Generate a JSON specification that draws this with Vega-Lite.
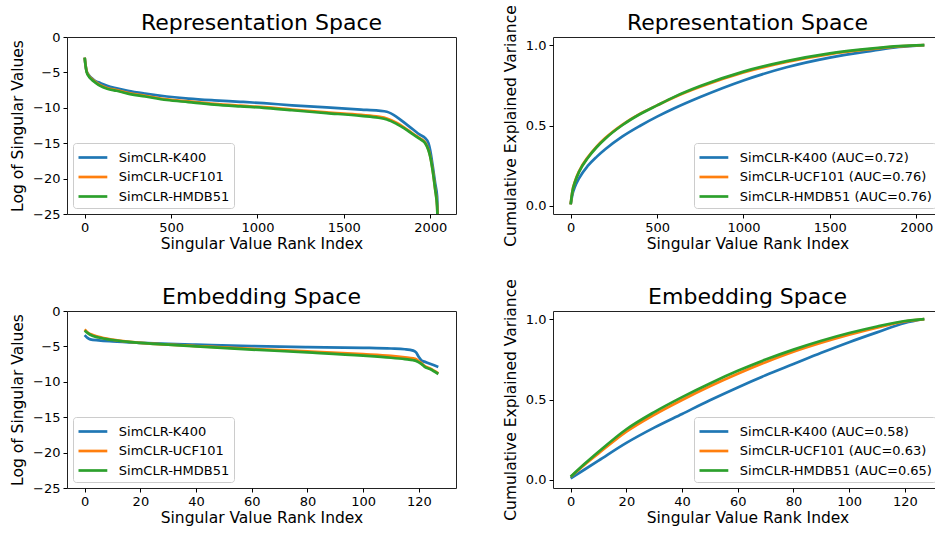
{
  "$schema": "https://vega.github.io/schema/vega-lite/v6.json",
  "background": "white",
  "padding": {"left": 10, "top": 4, "right": 0, "bottom": 0},
  "columns": 2,
  "spacing": {"row": 97, "column": 97},
  "bounds": "flush",
  "resolve": {"scale": {"color": "independent", "x": "independent", "y": "independent"}, "legend": {"color": "independent"}},
  "datasets": {
    "repLog": [
      {"s":"SimCLR-K400","x":0,"v":-2.9},{"s":"SimCLR-K400","x":5,"v":-4.0},{"s":"SimCLR-K400","x":12,"v":-4.9},{"s":"SimCLR-K400","x":25,"v":-5.4},{"s":"SimCLR-K400","x":40,"v":-5.8},{"s":"SimCLR-K400","x":60,"v":-6.2},{"s":"SimCLR-K400","x":90,"v":-6.5},{"s":"SimCLR-K400","x":130,"v":-6.9},{"s":"SimCLR-K400","x":185,"v":-7.25},{"s":"SimCLR-K400","x":250,"v":-7.6},{"s":"SimCLR-K400","x":350,"v":-8.0},{"s":"SimCLR-K400","x":475,"v":-8.4},{"s":"SimCLR-K400","x":600,"v":-8.7},{"s":"SimCLR-K400","x":750,"v":-8.95},{"s":"SimCLR-K400","x":900,"v":-9.15},{"s":"SimCLR-K400","x":1036,"v":-9.35},{"s":"SimCLR-K400","x":1200,"v":-9.65},{"s":"SimCLR-K400","x":1400,"v":-9.95},{"s":"SimCLR-K400","x":1600,"v":-10.25},{"s":"SimCLR-K400","x":1700,"v":-10.4},{"s":"SimCLR-K400","x":1749,"v":-10.55},{"s":"SimCLR-K400","x":1807,"v":-11.3},{"s":"SimCLR-K400","x":1850,"v":-12.1},{"s":"SimCLR-K400","x":1903,"v":-13.1},{"s":"SimCLR-K400","x":1940,"v":-13.8},{"s":"SimCLR-K400","x":1971,"v":-14.3},{"s":"SimCLR-K400","x":1990,"v":-15.0},{"s":"SimCLR-K400","x":2000,"v":-16.0},{"s":"SimCLR-K400","x":2015,"v":-18.3},{"s":"SimCLR-K400","x":2029,"v":-20.7},{"s":"SimCLR-K400","x":2040,"v":-22.5},{"s":"SimCLR-K400","x":2047,"v":-30},
      {"s":"SimCLR-UCF101","x":0,"v":-2.9},{"s":"SimCLR-UCF101","x":5,"v":-3.95},{"s":"SimCLR-UCF101","x":12,"v":-4.9},{"s":"SimCLR-UCF101","x":25,"v":-5.5},{"s":"SimCLR-UCF101","x":40,"v":-5.9},{"s":"SimCLR-UCF101","x":60,"v":-6.3},{"s":"SimCLR-UCF101","x":90,"v":-6.8},{"s":"SimCLR-UCF101","x":130,"v":-7.2},{"s":"SimCLR-UCF101","x":185,"v":-7.5},{"s":"SimCLR-UCF101","x":250,"v":-7.9},{"s":"SimCLR-UCF101","x":350,"v":-8.3},{"s":"SimCLR-UCF101","x":475,"v":-8.8},{"s":"SimCLR-UCF101","x":600,"v":-9.1},{"s":"SimCLR-UCF101","x":750,"v":-9.45},{"s":"SimCLR-UCF101","x":900,"v":-9.7},{"s":"SimCLR-UCF101","x":1036,"v":-9.9},{"s":"SimCLR-UCF101","x":1200,"v":-10.25},{"s":"SimCLR-UCF101","x":1400,"v":-10.65},{"s":"SimCLR-UCF101","x":1600,"v":-11.0},{"s":"SimCLR-UCF101","x":1700,"v":-11.25},{"s":"SimCLR-UCF101","x":1749,"v":-11.5},{"s":"SimCLR-UCF101","x":1807,"v":-12.15},{"s":"SimCLR-UCF101","x":1850,"v":-12.8},{"s":"SimCLR-UCF101","x":1903,"v":-13.7},{"s":"SimCLR-UCF101","x":1940,"v":-14.3},{"s":"SimCLR-UCF101","x":1971,"v":-14.9},{"s":"SimCLR-UCF101","x":1990,"v":-15.9},{"s":"SimCLR-UCF101","x":2000,"v":-16.8},{"s":"SimCLR-UCF101","x":2015,"v":-18.9},{"s":"SimCLR-UCF101","x":2029,"v":-21.5},{"s":"SimCLR-UCF101","x":2040,"v":-23.8},{"s":"SimCLR-UCF101","x":2047,"v":-30},
      {"s":"SimCLR-HMDB51","x":0,"v":-2.9},{"s":"SimCLR-HMDB51","x":5,"v":-4.0},{"s":"SimCLR-HMDB51","x":12,"v":-5.0},{"s":"SimCLR-HMDB51","x":25,"v":-5.6},{"s":"SimCLR-HMDB51","x":40,"v":-6.0},{"s":"SimCLR-HMDB51","x":60,"v":-6.4},{"s":"SimCLR-HMDB51","x":90,"v":-6.9},{"s":"SimCLR-HMDB51","x":130,"v":-7.3},{"s":"SimCLR-HMDB51","x":185,"v":-7.6},{"s":"SimCLR-HMDB51","x":250,"v":-8.0},{"s":"SimCLR-HMDB51","x":350,"v":-8.4},{"s":"SimCLR-HMDB51","x":475,"v":-8.9},{"s":"SimCLR-HMDB51","x":600,"v":-9.2},{"s":"SimCLR-HMDB51","x":750,"v":-9.55},{"s":"SimCLR-HMDB51","x":900,"v":-9.8},{"s":"SimCLR-HMDB51","x":1036,"v":-10.0},{"s":"SimCLR-HMDB51","x":1200,"v":-10.35},{"s":"SimCLR-HMDB51","x":1400,"v":-10.75},{"s":"SimCLR-HMDB51","x":1600,"v":-11.15},{"s":"SimCLR-HMDB51","x":1700,"v":-11.4},{"s":"SimCLR-HMDB51","x":1749,"v":-11.65},{"s":"SimCLR-HMDB51","x":1807,"v":-12.3},{"s":"SimCLR-HMDB51","x":1850,"v":-12.9},{"s":"SimCLR-HMDB51","x":1903,"v":-13.8},{"s":"SimCLR-HMDB51","x":1940,"v":-14.4},{"s":"SimCLR-HMDB51","x":1971,"v":-15.0},{"s":"SimCLR-HMDB51","x":1990,"v":-16.0},{"s":"SimCLR-HMDB51","x":2000,"v":-16.9},{"s":"SimCLR-HMDB51","x":2015,"v":-19.0},{"s":"SimCLR-HMDB51","x":2029,"v":-21.6},{"s":"SimCLR-HMDB51","x":2040,"v":-24.0},{"s":"SimCLR-HMDB51","x":2047,"v":-30}
    ],
    "repCum": [
      {"s":"SimCLR-K400 (AUC=0.72)","x":0,"v":0.01},{"s":"SimCLR-K400 (AUC=0.72)","x":10,"v":0.07},{"s":"SimCLR-K400 (AUC=0.72)","x":25,"v":0.12},{"s":"SimCLR-K400 (AUC=0.72)","x":50,"v":0.175},{"s":"SimCLR-K400 (AUC=0.72)","x":100,"v":0.25},{"s":"SimCLR-K400 (AUC=0.72)","x":150,"v":0.305},{"s":"SimCLR-K400 (AUC=0.72)","x":200,"v":0.352},{"s":"SimCLR-K400 (AUC=0.72)","x":300,"v":0.432},{"s":"SimCLR-K400 (AUC=0.72)","x":400,"v":0.497},{"s":"SimCLR-K400 (AUC=0.72)","x":500,"v":0.555},{"s":"SimCLR-K400 (AUC=0.72)","x":600,"v":0.607},{"s":"SimCLR-K400 (AUC=0.72)","x":750,"v":0.677},{"s":"SimCLR-K400 (AUC=0.72)","x":1000,"v":0.78},{"s":"SimCLR-K400 (AUC=0.72)","x":1250,"v":0.862},{"s":"SimCLR-K400 (AUC=0.72)","x":1500,"v":0.922},{"s":"SimCLR-K400 (AUC=0.72)","x":1750,"v":0.965},{"s":"SimCLR-K400 (AUC=0.72)","x":1900,"v":0.988},{"s":"SimCLR-K400 (AUC=0.72)","x":2047,"v":1.0},
      {"s":"SimCLR-UCF101 (AUC=0.76)","x":0,"v":0.01},{"s":"SimCLR-UCF101 (AUC=0.76)","x":10,"v":0.092},{"s":"SimCLR-UCF101 (AUC=0.76)","x":25,"v":0.153},{"s":"SimCLR-UCF101 (AUC=0.76)","x":50,"v":0.219},{"s":"SimCLR-UCF101 (AUC=0.76)","x":100,"v":0.304},{"s":"SimCLR-UCF101 (AUC=0.76)","x":150,"v":0.369},{"s":"SimCLR-UCF101 (AUC=0.76)","x":200,"v":0.422},{"s":"SimCLR-UCF101 (AUC=0.76)","x":300,"v":0.506},{"s":"SimCLR-UCF101 (AUC=0.76)","x":400,"v":0.572},{"s":"SimCLR-UCF101 (AUC=0.76)","x":500,"v":0.625},{"s":"SimCLR-UCF101 (AUC=0.76)","x":600,"v":0.676},{"s":"SimCLR-UCF101 (AUC=0.76)","x":750,"v":0.741},{"s":"SimCLR-UCF101 (AUC=0.76)","x":1000,"v":0.83},{"s":"SimCLR-UCF101 (AUC=0.76)","x":1250,"v":0.895},{"s":"SimCLR-UCF101 (AUC=0.76)","x":1500,"v":0.944},{"s":"SimCLR-UCF101 (AUC=0.76)","x":1750,"v":0.976},{"s":"SimCLR-UCF101 (AUC=0.76)","x":1900,"v":0.992},{"s":"SimCLR-UCF101 (AUC=0.76)","x":2047,"v":1.0},
      {"s":"SimCLR-HMDB51 (AUC=0.76)","x":0,"v":0.01},{"s":"SimCLR-HMDB51 (AUC=0.76)","x":10,"v":0.09},{"s":"SimCLR-HMDB51 (AUC=0.76)","x":25,"v":0.15},{"s":"SimCLR-HMDB51 (AUC=0.76)","x":50,"v":0.215},{"s":"SimCLR-HMDB51 (AUC=0.76)","x":100,"v":0.30},{"s":"SimCLR-HMDB51 (AUC=0.76)","x":150,"v":0.365},{"s":"SimCLR-HMDB51 (AUC=0.76)","x":200,"v":0.418},{"s":"SimCLR-HMDB51 (AUC=0.76)","x":300,"v":0.503},{"s":"SimCLR-HMDB51 (AUC=0.76)","x":400,"v":0.57},{"s":"SimCLR-HMDB51 (AUC=0.76)","x":500,"v":0.625},{"s":"SimCLR-HMDB51 (AUC=0.76)","x":600,"v":0.678},{"s":"SimCLR-HMDB51 (AUC=0.76)","x":750,"v":0.745},{"s":"SimCLR-HMDB51 (AUC=0.76)","x":1000,"v":0.835},{"s":"SimCLR-HMDB51 (AUC=0.76)","x":1250,"v":0.9},{"s":"SimCLR-HMDB51 (AUC=0.76)","x":1500,"v":0.948},{"s":"SimCLR-HMDB51 (AUC=0.76)","x":1750,"v":0.979},{"s":"SimCLR-HMDB51 (AUC=0.76)","x":1900,"v":0.993},{"s":"SimCLR-HMDB51 (AUC=0.76)","x":2047,"v":1.0}
    ],
    "embLog": [
      {"s":"SimCLR-K400","x":0,"v":-3.4},{"s":"SimCLR-K400","x":1,"v":-3.8},{"s":"SimCLR-K400","x":2,"v":-4.0},{"s":"SimCLR-K400","x":5,"v":-4.15},{"s":"SimCLR-K400","x":10,"v":-4.3},{"s":"SimCLR-K400","x":20,"v":-4.5},{"s":"SimCLR-K400","x":30,"v":-4.65},{"s":"SimCLR-K400","x":40,"v":-4.75},{"s":"SimCLR-K400","x":60,"v":-4.95},{"s":"SimCLR-K400","x":80,"v":-5.1},{"s":"SimCLR-K400","x":100,"v":-5.2},{"s":"SimCLR-K400","x":110,"v":-5.3},{"s":"SimCLR-K400","x":115,"v":-5.4},{"s":"SimCLR-K400","x":118,"v":-5.6},{"s":"SimCLR-K400","x":119,"v":-5.85},{"s":"SimCLR-K400","x":120,"v":-6.5},{"s":"SimCLR-K400","x":121,"v":-7.0},{"s":"SimCLR-K400","x":122,"v":-7.15},{"s":"SimCLR-K400","x":124,"v":-7.45},{"s":"SimCLR-K400","x":127,"v":-7.9},
      {"s":"SimCLR-UCF101","x":0,"v":-2.6},{"s":"SimCLR-UCF101","x":1,"v":-3.0},{"s":"SimCLR-UCF101","x":2,"v":-3.25},{"s":"SimCLR-UCF101","x":5,"v":-3.65},{"s":"SimCLR-UCF101","x":10,"v":-4.05},{"s":"SimCLR-UCF101","x":20,"v":-4.5},{"s":"SimCLR-UCF101","x":30,"v":-4.75},{"s":"SimCLR-UCF101","x":40,"v":-4.95},{"s":"SimCLR-UCF101","x":60,"v":-5.35},{"s":"SimCLR-UCF101","x":80,"v":-5.7},{"s":"SimCLR-UCF101","x":100,"v":-6.1},{"s":"SimCLR-UCF101","x":110,"v":-6.35},{"s":"SimCLR-UCF101","x":115,"v":-6.55},{"s":"SimCLR-UCF101","x":118,"v":-6.7},{"s":"SimCLR-UCF101","x":119,"v":-6.8},{"s":"SimCLR-UCF101","x":120,"v":-7.1},{"s":"SimCLR-UCF101","x":121,"v":-7.4},{"s":"SimCLR-UCF101","x":122,"v":-7.75},{"s":"SimCLR-UCF101","x":124,"v":-8.1},{"s":"SimCLR-UCF101","x":127,"v":-8.8},
      {"s":"SimCLR-HMDB51","x":0,"v":-2.75},{"s":"SimCLR-HMDB51","x":1,"v":-3.1},{"s":"SimCLR-HMDB51","x":2,"v":-3.35},{"s":"SimCLR-HMDB51","x":5,"v":-3.75},{"s":"SimCLR-HMDB51","x":10,"v":-4.1},{"s":"SimCLR-HMDB51","x":20,"v":-4.5},{"s":"SimCLR-HMDB51","x":30,"v":-4.75},{"s":"SimCLR-HMDB51","x":40,"v":-5.0},{"s":"SimCLR-HMDB51","x":60,"v":-5.45},{"s":"SimCLR-HMDB51","x":80,"v":-5.85},{"s":"SimCLR-HMDB51","x":100,"v":-6.3},{"s":"SimCLR-HMDB51","x":110,"v":-6.6},{"s":"SimCLR-HMDB51","x":115,"v":-6.8},{"s":"SimCLR-HMDB51","x":118,"v":-6.95},{"s":"SimCLR-HMDB51","x":119,"v":-7.05},{"s":"SimCLR-HMDB51","x":120,"v":-7.25},{"s":"SimCLR-HMDB51","x":121,"v":-7.5},{"s":"SimCLR-HMDB51","x":122,"v":-7.85},{"s":"SimCLR-HMDB51","x":124,"v":-8.2},{"s":"SimCLR-HMDB51","x":127,"v":-8.9}
    ],
    "embCum": [
      {"s":"SimCLR-K400 (AUC=0.58)","x":0,"v":0.01},{"s":"SimCLR-K400 (AUC=0.58)","x":5,"v":0.065},{"s":"SimCLR-K400 (AUC=0.58)","x":10,"v":0.12},{"s":"SimCLR-K400 (AUC=0.58)","x":20,"v":0.23},{"s":"SimCLR-K400 (AUC=0.58)","x":30,"v":0.325},{"s":"SimCLR-K400 (AUC=0.58)","x":40,"v":0.41},{"s":"SimCLR-K400 (AUC=0.58)","x":50,"v":0.495},{"s":"SimCLR-K400 (AUC=0.58)","x":60,"v":0.575},{"s":"SimCLR-K400 (AUC=0.58)","x":70,"v":0.65},{"s":"SimCLR-K400 (AUC=0.58)","x":80,"v":0.72},{"s":"SimCLR-K400 (AUC=0.58)","x":90,"v":0.79},{"s":"SimCLR-K400 (AUC=0.58)","x":100,"v":0.856},{"s":"SimCLR-K400 (AUC=0.58)","x":110,"v":0.917},{"s":"SimCLR-K400 (AUC=0.58)","x":120,"v":0.975},{"s":"SimCLR-K400 (AUC=0.58)","x":127,"v":1.0},
      {"s":"SimCLR-UCF101 (AUC=0.63)","x":0,"v":0.02},{"s":"SimCLR-UCF101 (AUC=0.63)","x":5,"v":0.095},{"s":"SimCLR-UCF101 (AUC=0.63)","x":10,"v":0.165},{"s":"SimCLR-UCF101 (AUC=0.63)","x":20,"v":0.3},{"s":"SimCLR-UCF101 (AUC=0.63)","x":30,"v":0.405},{"s":"SimCLR-UCF101 (AUC=0.63)","x":40,"v":0.497},{"s":"SimCLR-UCF101 (AUC=0.63)","x":50,"v":0.582},{"s":"SimCLR-UCF101 (AUC=0.63)","x":60,"v":0.66},{"s":"SimCLR-UCF101 (AUC=0.63)","x":70,"v":0.732},{"s":"SimCLR-UCF101 (AUC=0.63)","x":80,"v":0.797},{"s":"SimCLR-UCF101 (AUC=0.63)","x":90,"v":0.853},{"s":"SimCLR-UCF101 (AUC=0.63)","x":100,"v":0.903},{"s":"SimCLR-UCF101 (AUC=0.63)","x":110,"v":0.947},{"s":"SimCLR-UCF101 (AUC=0.63)","x":120,"v":0.985},{"s":"SimCLR-UCF101 (AUC=0.63)","x":127,"v":1.0},
      {"s":"SimCLR-HMDB51 (AUC=0.65)","x":0,"v":0.02},{"s":"SimCLR-HMDB51 (AUC=0.65)","x":5,"v":0.1},{"s":"SimCLR-HMDB51 (AUC=0.65)","x":10,"v":0.175},{"s":"SimCLR-HMDB51 (AUC=0.65)","x":20,"v":0.315},{"s":"SimCLR-HMDB51 (AUC=0.65)","x":30,"v":0.422},{"s":"SimCLR-HMDB51 (AUC=0.65)","x":40,"v":0.515},{"s":"SimCLR-HMDB51 (AUC=0.65)","x":50,"v":0.6},{"s":"SimCLR-HMDB51 (AUC=0.65)","x":60,"v":0.678},{"s":"SimCLR-HMDB51 (AUC=0.65)","x":70,"v":0.748},{"s":"SimCLR-HMDB51 (AUC=0.65)","x":80,"v":0.81},{"s":"SimCLR-HMDB51 (AUC=0.65)","x":90,"v":0.865},{"s":"SimCLR-HMDB51 (AUC=0.65)","x":100,"v":0.913},{"s":"SimCLR-HMDB51 (AUC=0.65)","x":110,"v":0.954},{"s":"SimCLR-HMDB51 (AUC=0.65)","x":120,"v":0.988},{"s":"SimCLR-HMDB51 (AUC=0.65)","x":127,"v":1.0}
    ]
  },
  "concat": [
    {
      "title": {"text": "Representation Space"},
      "width": 389, "height": 177,
      "data": {"name": "repLog"},
      "mark": {"type": "line", "strokeWidth": 2.7, "clip": true, "interpolate": "monotone"},
      "encoding": {
        "x": {"field": "x", "type": "quantitative", "scale": {"domain": [-102.35, 2149.35], "nice": false, "zero": false}, "axis": {"values": [0, 500, 1000, 1500, 2000], "format": "d", "title": "Singular Value Rank Index"}},
        "y": {"field": "v", "type": "quantitative", "scale": {"domain": [-25, 0], "nice": false}, "axis": {"values": [0, -5, -10, -15, -20, -25], "title": "Log of Singular Values", "labelExpr": "replace(datum.label, '-', '\u2212')"}},
        "color": {"field": "s", "type": "nominal", "sort": null, "scale": {"domain": ["SimCLR-K400", "SimCLR-UCF101", "SimCLR-HMDB51"], "range": ["#1f77b4", "#ff7f0e", "#2ca02c"]}, "legend": {"orient": "bottom-left"}}
      }
    },
    {
      "title": {"text": "Representation Space", "dy": 26},
      "width": 389, "height": 177,
      "data": {"name": "repCum"},
      "mark": {"type": "line", "strokeWidth": 2.7, "clip": true, "interpolate": "monotone"},
      "encoding": {
        "x": {"field": "x", "type": "quantitative", "scale": {"domain": [-102.35, 2149.35], "nice": false, "zero": false}, "axis": {"values": [0, 500, 1000, 1500, 2000], "format": "d", "title": "Singular Value Rank Index"}},
        "y": {"field": "v", "type": "quantitative", "scale": {"domain": [-0.05, 1.05], "nice": false, "zero": false}, "axis": {"values": [0, 0.5, 1], "format": ".1f", "title": "Cumulative Explained Variance"}},
        "color": {"field": "s", "type": "nominal", "sort": null, "scale": {"domain": ["SimCLR-K400 (AUC=0.72)", "SimCLR-UCF101 (AUC=0.76)", "SimCLR-HMDB51 (AUC=0.76)"], "range": ["#1f77b4", "#ff7f0e", "#2ca02c"]}, "legend": {"orient": "bottom-right"}}
      }
    },
    {
      "title": {"text": "Embedding Space"},
      "width": 389, "height": 177,
      "data": {"name": "embLog"},
      "mark": {"type": "line", "strokeWidth": 2.7, "clip": true, "interpolate": "monotone"},
      "encoding": {
        "x": {"field": "x", "type": "quantitative", "scale": {"domain": [-6.35, 133.35], "nice": false, "zero": false}, "axis": {"values": [0, 20, 40, 60, 80, 100, 120], "format": "d", "title": "Singular Value Rank Index"}},
        "y": {"field": "v", "type": "quantitative", "scale": {"domain": [-25, 0], "nice": false}, "axis": {"values": [0, -5, -10, -15, -20, -25], "title": "Log of Singular Values", "labelExpr": "replace(datum.label, '-', '\u2212')"}},
        "color": {"field": "s", "type": "nominal", "sort": null, "scale": {"domain": ["SimCLR-K400", "SimCLR-UCF101", "SimCLR-HMDB51"], "range": ["#1f77b4", "#ff7f0e", "#2ca02c"]}, "legend": {"orient": "bottom-left"}}
      }
    },
    {
      "title": {"text": "Embedding Space", "dy": 26},
      "width": 389, "height": 177,
      "data": {"name": "embCum"},
      "mark": {"type": "line", "strokeWidth": 2.7, "clip": true, "interpolate": "monotone"},
      "encoding": {
        "x": {"field": "x", "type": "quantitative", "scale": {"domain": [-6.35, 133.35], "nice": false, "zero": false}, "axis": {"values": [0, 20, 40, 60, 80, 100, 120], "format": "d", "title": "Singular Value Rank Index"}},
        "y": {"field": "v", "type": "quantitative", "scale": {"domain": [-0.05, 1.05], "nice": false, "zero": false}, "axis": {"values": [0, 0.5, 1], "format": ".1f", "title": "Cumulative Explained Variance"}},
        "color": {"field": "s", "type": "nominal", "sort": null, "scale": {"domain": ["SimCLR-K400 (AUC=0.58)", "SimCLR-UCF101 (AUC=0.63)", "SimCLR-HMDB51 (AUC=0.65)"], "range": ["#1f77b4", "#ff7f0e", "#2ca02c"]}, "legend": {"orient": "bottom-right"}}
      }
    }
  ],
  "config": {
    "font": "DejaVu Sans",
    "view": {"stroke": "#222", "strokeWidth": 1},
    "axis": {"domain": false, "grid": false, "ticks": true, "tickColor": "#000", "tickSize": 4, "tickWidth": 1, "labelFontSize": 13, "labelColor": "#000", "labelPadding": 3, "titleFontSize": 15.5, "titleFontWeight": "normal", "titleColor": "#000", "labelFont": "DejaVu Sans", "titleFont": "DejaVu Sans"},
    "axisX": {"titlePadding": 2},
    "axisY": {"titlePadding": 7},
    "title": {"fontSize": 22, "fontWeight": "normal", "font": "DejaVu Sans", "color": "#000", "offset": -4},
    "legend": {"offset": 6, "title": null, "fillColor": "#fff", "strokeColor": "#ccc", "cornerRadius": 3, "padding": 4, "symbolType": "M-1,0H2.2", "symbolSize": 324, "symbolStrokeWidth": 2.7, "labelFontSize": 13, "labelOffset": 20.8, "rowPadding": 1.5, "labelFont": "DejaVu Sans", "labelColor": "#000", "labelLimit": 400}
  }
}
